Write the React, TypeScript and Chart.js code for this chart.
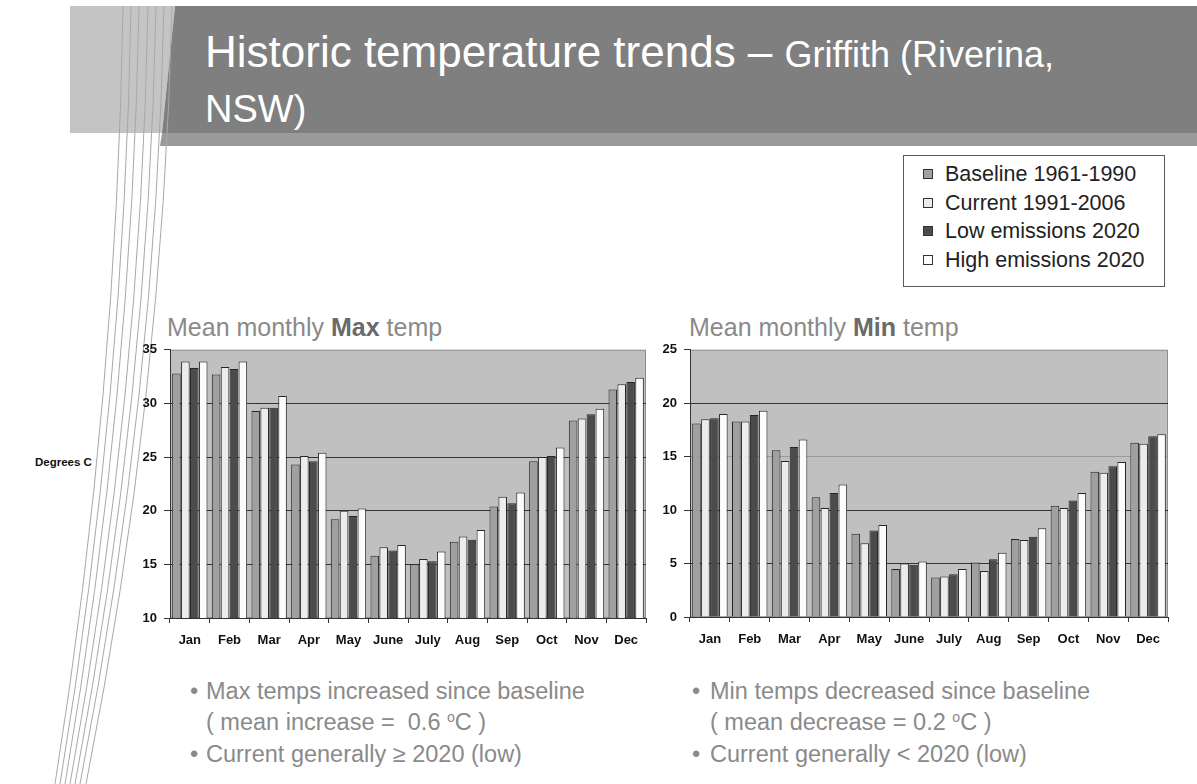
import React, { useEffect, useRef } from "react";
import { Chart, registerables } from "chart.js";

Chart.register(...registerables);

const FONT = "'Liberation Sans', Arial, Helvetica, sans-serif";

const months = ["Jan", "Feb", "Mar", "Apr", "May", "June", "July", "Aug", "Sep", "Oct", "Nov", "Dec"];
const seriesNames = ["Baseline 1961-1990", "Current 1991-2006", "Low emissions 2020", "High emissions 2020"];
const seriesColors = ["#a0a0a0", "#ececec", "#4b4b4b", "#fcfcfc"];

// Mean monthly maximum temperature (°C)
const maxBaseline = [32.8, 32.7, 29.3, 24.3, 19.2, 15.8, 15.0, 17.1, 20.4, 24.6, 28.4, 31.3];
const maxCurrent = [33.9, 33.4, 29.6, 25.1, 20.0, 16.6, 15.5, 17.6, 21.3, 25.0, 28.6, 31.8];
const maxLow = [33.3, 33.2, 29.6, 24.6, 19.5, 16.3, 15.3, 17.3, 20.7, 25.1, 29.0, 32.0];
const maxHigh = [33.9, 33.9, 30.7, 25.4, 20.2, 16.8, 16.2, 18.2, 21.7, 25.9, 29.5, 32.4];

// Mean monthly minimum temperature (°C)
const minBaseline = [18.1, 18.3, 15.6, 11.2, 7.8, 4.5, 3.7, 5.1, 7.3, 10.4, 13.6, 16.3];
const minCurrent = [18.5, 18.3, 14.6, 10.2, 6.9, 5.0, 3.8, 4.3, 7.2, 10.2, 13.5, 16.2];
const minLow = [18.6, 18.9, 15.9, 11.6, 8.1, 4.9, 4.0, 5.4, 7.5, 10.9, 14.1, 16.9];
const minHigh = [19.0, 19.3, 16.6, 12.4, 8.6, 5.2, 4.5, 6.0, 8.3, 11.6, 14.5, 17.1];

const maxTicks = [10, 35, 5];
const minTicks = [0, 25, 5];

const plotBg = {
  id: "plotBg",
  beforeDraw(chart: any) {
    const { ctx, chartArea: a } = chart;
    ctx.save();
    ctx.fillStyle = "#c0c0c0";
    ctx.fillRect(a.left, a.top, a.right - a.left, a.bottom - a.top);
    ctx.strokeStyle = "#8e8e8e";
    ctx.lineWidth = 1;
    ctx.strokeRect(a.left + 0.5, a.top + 0.5, a.right - a.left - 1, a.bottom - a.top - 1);
    ctx.restore();
  },
};

type TCProps = {
  series: number[][];
  ticks: number[];
  lightLines: number[];
  left: number;
  top: number;
  w: number;
  h: number;
  padTop: number;
  padRight: number;
  xHeight: number;
};

function TempChart(p: TCProps) {
  const ref = useRef<HTMLCanvasElement>(null);
  useEffect(() => {
    const [yMin, yMax, step] = p.ticks;
    const chart = new Chart(ref.current as HTMLCanvasElement, {
      type: "bar",
      data: {
        labels: months,
        datasets: p.series.map((d, i) => ({
          label: seriesNames[i],
          data: d,
          backgroundColor: seriesColors[i],
          borderColor: "#262626",
          borderWidth: 1,
          categoryPercentage: 0.9,
          barPercentage: 0.96,
        })),
      },
      options: {
        responsive: false,
        animation: false,
        layout: { padding: { top: p.padTop, right: p.padRight, left: 0, bottom: 0 } },
        plugins: { legend: { display: false }, tooltip: { enabled: false } },
        scales: {
          x: {
            grid: { offset: true, drawOnChartArea: false, drawTicks: true, tickLength: 5, color: "#333", lineWidth: 1 },
            border: { display: true, color: "#333", width: 1 },
            ticks: { font: { family: FONT, size: 13, weight: "bold" }, color: "#111", padding: 10, autoSkip: false, maxRotation: 0 },
            afterFit: (s: any) => { s.height = p.xHeight; },
          },
          y: {
            min: yMin,
            max: yMax,
            ticks: { stepSize: step, font: { family: FONT, size: 13, weight: "bold" }, color: "#111", padding: 7 },
            grid: {
              color: (c: any) => {
                const v = c.tick ? c.tick.value : 0;
                if (v === yMax) return "rgba(0,0,0,0)";
                if (p.lightLines.includes(v)) return "#9a9a9a";
                return "#333";
              },
              tickColor: "#333",
              tickLength: 6,
              lineWidth: 1,
            },
            border: { display: true, color: "#333", width: 1 },
            afterFit: (s: any) => { s.width = 60; },
          },
        },
      },
      plugins: [plotBg],
    } as any);
    return () => chart.destroy();
  }, []);
  return (
    <canvas
      ref={ref}
      width={p.w}
      height={p.h}
      style={{ position: "absolute", left: p.left, top: p.top, width: p.w, height: p.h }}
    />
  );
}

// decorative slide lines: top x, x at mid-height, bottom x
const lineTops = [123, 131, 139, 148, 156, 164, 172];
const lineMids = [103, 110, 117, 125, 132, 139, 146];
const lineBottoms = [55, 60, 65, 70, 75, 80, 86];

export default function App() {
  useEffect(() => {
    document.body.style.margin = "0";
  }, []);
  const grayText = "#8a8a8a";
  const bulletStyle = (left: number, top: number): React.CSSProperties => ({
    position: "absolute",
    left,
    top,
    fontSize: 23.5,
    lineHeight: "24px",
    color: grayText,
    whiteSpace: "nowrap",
  });
  const sup = <span style={{ fontSize: "0.6em", position: "relative", top: "-0.6em" }}>o</span>;
  return (
    <div
      style={{
        position: "fixed",
        left: 0,
        top: 0,
        width: 1197,
        height: 784,
        background: "#fff",
        overflow: "hidden",
        fontFamily: FONT,
      }}
    >
      <svg width={1197} height={784} style={{ position: "absolute", left: 0, top: 0 }}>
        <polygon points="70,6 175,6 162,133 70,133" fill="#c4c4c4" />
        <polygon points="175,6 1197,6 1197,133 162,133" fill="#7f7f7f" />
        <polygon points="162,133 1197,133 1197,146 160,146" fill="#9a9a9a" />
        {lineTops.map((x, i) => {
          const cx = 2 * lineMids[i] - (x + lineBottoms[i]) / 2;
          return (
            <path
              key={i}
              d={`M ${x} 6 Q ${cx} 395 ${lineBottoms[i]} 784`}
              fill="none"
              stroke="#a8a8a8"
              strokeWidth={1}
            />
          );
        })}
      </svg>

      <div style={{ position: "absolute", left: 205, top: 30, fontSize: 44, lineHeight: "44px", color: "#fff", whiteSpace: "nowrap" }}>
        Historic temperature trends – <span style={{ fontSize: 36 }}>Griffith (Riverina,</span>
      </div>
      <div style={{ position: "absolute", left: 205, top: 90, fontSize: 38, lineHeight: "38px", color: "#fff", whiteSpace: "nowrap" }}>
        NSW)
      </div>

      <div
        style={{
          position: "absolute",
          left: 903,
          top: 155,
          width: 260,
          height: 130,
          border: "1px solid #5a5a5a",
          background: "#fff",
        }}
      >
        {seriesNames.map((n, i) => {
          const c = 18 + i * 28.5;
          return (
            <React.Fragment key={n}>
              <div
                style={{
                  position: "absolute",
                  left: 19,
                  top: c - 5,
                  width: 8,
                  height: 8,
                  border: "1px solid #333",
                  background: seriesColors[i],
                }}
              />
              <div
                style={{
                  position: "absolute",
                  left: 41,
                  top: c - 11,
                  fontSize: 21.5,
                  lineHeight: "22px",
                  color: "#222",
                  whiteSpace: "nowrap",
                }}
              >
                {n}
              </div>
            </React.Fragment>
          );
        })}
      </div>

      <div style={{ position: "absolute", left: 167, top: 315, fontSize: 25, lineHeight: "24px", color: grayText, whiteSpace: "nowrap" }}>
        Mean monthly <b style={{ color: "#6a6a6a" }}>Max</b> temp
      </div>
      <div style={{ position: "absolute", left: 689, top: 315, fontSize: 25, lineHeight: "24px", color: grayText, whiteSpace: "nowrap" }}>
        Mean monthly <b style={{ color: "#6a6a6a" }}>Min</b> temp
      </div>

      <div style={{ position: "absolute", left: 35, top: 455, fontSize: 11.5, lineHeight: "14px", fontWeight: "bold", color: "#111", whiteSpace: "nowrap" }}>
        Degrees C
      </div>

      <TempChart
        series={[maxBaseline, maxCurrent, maxLow, maxHigh]}
        ticks={maxTicks}
        lightLines={[]}
        left={110}
        top={335}
        w={550}
        h={322}
        padTop={12}
        padRight={14}
        xHeight={39}
      />
      <TempChart
        series={[minBaseline, minCurrent, minLow, minHigh]}
        ticks={minTicks}
        lightLines={[15]}
        left={630}
        top={335}
        w={550}
        h={322}
        padTop={11}
        padRight={12}
        xHeight={40}
      />

      <div style={bulletStyle(190, 679)}>•</div>
      <div style={bulletStyle(206, 679)}>Max temps increased since baseline</div>
      <div style={bulletStyle(206, 710)}>( mean increase =&nbsp; 0.6 {sup}C )</div>
      <div style={bulletStyle(190, 742)}>•</div>
      <div style={bulletStyle(206, 742)}>Current generally ≥ 2020 (low)</div>

      <div style={bulletStyle(692, 679)}>•</div>
      <div style={bulletStyle(710, 679)}>Min temps decreased since baseline</div>
      <div style={bulletStyle(710, 710)}>( mean decrease = 0.2 {sup}C )</div>
      <div style={bulletStyle(692, 742)}>•</div>
      <div style={bulletStyle(710, 742)}>Current generally &lt; 2020 (low)</div>
    </div>
  );
}
